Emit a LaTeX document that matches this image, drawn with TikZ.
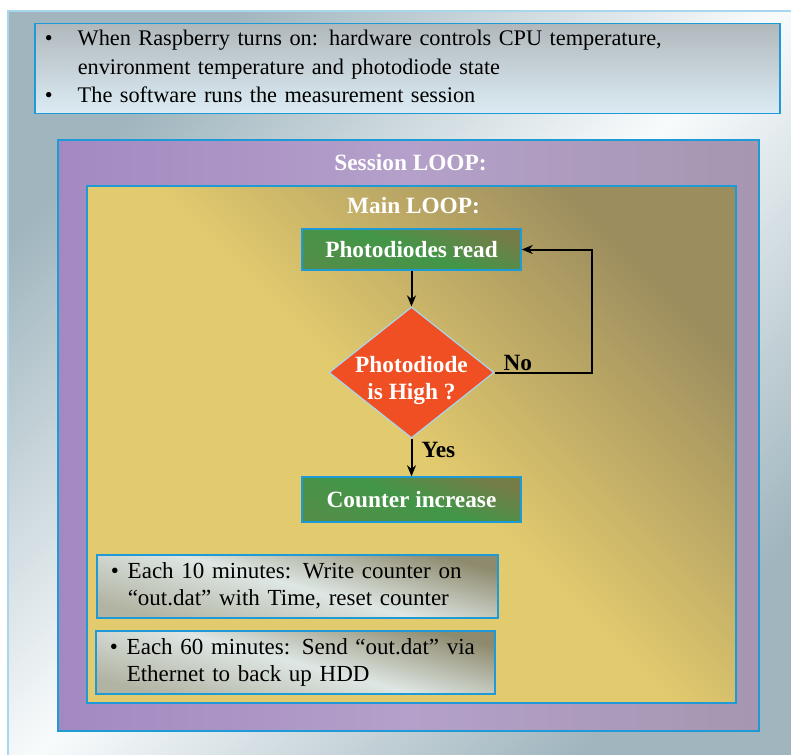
\documentclass[tikz,border=0pt]{standalone}
\usepackage{fontspec}
\setmainfont{Liberation Serif}
\usetikzlibrary{shapes.geometric, arrows.meta}

\definecolor{frameblue}{RGB}{30,154,214}
\definecolor{paleblue}{RGB}{168,214,236}
\definecolor{panelgray}{RGB}{160,181,190}
\definecolor{panelwhite}{RGB}{248,251,252}
\definecolor{introtop}{RGB}{176,184,188}
\definecolor{introbot}{RGB}{220,236,244}
\definecolor{sessiona}{RGB}{163,137,193}
\definecolor{sessionb}{RGB}{180,160,202}
\definecolor{sessionc}{RGB}{166,150,176}
\definecolor{maina}{RGB}{226,202,110}
\definecolor{mainb}{RGB}{156,141,94}
\definecolor{stepgreen}{RGB}{66,150,72}
\definecolor{stepolive}{RGB}{118,124,72}
\definecolor{decidered}{RGB}{240,78,35}
\definecolor{notedark}{RGB}{142,138,110}
\definecolor{notelight}{RGB}{222,231,228}

\tikzstyle{loopbox} = [rectangle, draw=frameblue, line width=2pt, inner sep=0pt, anchor=north west]
\tikzstyle{looptitle} = [text=white, font=\fontsize{23.3}{26}\selectfont\bfseries]
\tikzstyle{process} = [rectangle, minimum width=219pt, draw=frameblue, line width=1.5pt, text=white, font=\fontsize{23.3}{26}\selectfont\bfseries, top color=stepolive, bottom color=stepgreen!70!stepolive, middle color=stepgreen, shading angle=-20]
\tikzstyle{decision} = [diamond, aspect=1.26, inner sep=-5pt, minimum width=165pt, minimum height=131pt, fill=decidered, draw=paleblue, line width=1.2pt, text=white, font=\fontsize{23.3}{27}\selectfont\bfseries]
\tikzstyle{note} = [rectangle, draw=frameblue, line width=1.5pt, inner xsep=14pt, inner ysep=0pt, anchor=north west, top color=notedark, bottom color=notedark!55!notelight, middle color=notelight, shading angle=-15, font=\fontsize{23}{27}\selectfont]
\tikzstyle{answer} = [font=\fontsize{23.3}{26}\selectfont\bfseries, inner sep=1pt]
\tikzstyle{arrow} = [line width=2pt, -{Stealth[length=11pt, width=9pt]}]

\begin{document}
\begin{tikzpicture}[x=1pt, y=-1pt, node distance=123pt]
		\useasboundingbox (0,0) rectangle (791,754);
		% background panel
		\shade [top color=panelgray, bottom color=panelgray, middle color=panelwhite, shading angle=45] (8,11) rectangle (800,760);
		\draw [paleblue, line width=2pt] (8,760) -- (8,11) -- (800,11);
		
		\node (intro) [rectangle, draw=frameblue, line width=1.5pt, anchor=north west, minimum width=745pt, minimum height=90pt, inner xsep=10pt, inner ysep=0pt, text width=725pt, top color=introtop, bottom color=introbot, font=\fontsize{22.3}{28.5}\selectfont] at (34,23)
			{\begin{tabular}{@{}p{33pt}@{}l@{}}
				\textbullet & When Raspberry turns on: hardware controls CPU temperature,\\
				& environment temperature and photodiode state\\
				\textbullet & The software runs the measurement session
			\end{tabular}};
		
		\node (session) [loopbox, minimum width=701pt, minimum height=591pt, left color=sessiona, right color=sessionc, middle color=sessionb] at (57,139) {};
		\node (sessiontitle) [looptitle] at (410.5,163) {Session LOOP:};
		\node (main) [loopbox, minimum width=649pt, minimum height=517pt, bottom color=maina, top color=mainb, middle color=maina, shading angle=-45] at (86,185) {};
		\node (maintitle) [looptitle] at (413.5,206) {Main LOOP:};
		
		\node (read) [process, minimum height=41pt] at (411.5,249.5) {Photodiodes read};
		\node (decide) [decision, below of=read] {\raisebox{-8pt}[\height][\depth]{\begin{tabular}{@{}c@{}}Photodiode\\is High ?\end{tabular}}};
		\node (counter) [process, minimum height=45pt, below of=decide, node distance=127pt] {Counter increase};
		
		\draw [arrow] (read) -- (decide);
		\draw [arrow] (decide.east) -- node [answer, pos=0, anchor=south west, xshift=7pt] (no) {No} ++(97,0) |- (read.east);
		\draw [arrow] (decide) -- node [answer, right, pos=0.3, xshift=8pt] (yes) {Yes} (counter);
		
		\node (tenmin) [note, minimum width=401pt, minimum height=63pt, text width=373pt] at (96,554)
			{\begin{tabular}{@{}p{17pt}@{}l@{}}
				\textbullet & Each 10 minutes: Write counter on\\
				& “out.dat” with Time, reset counter
			\end{tabular}};
		\node (sixtymin) [note, minimum width=399pt, minimum height=63pt, text width=371pt] at (95,630)
			{\begin{tabular}{@{}p{17pt}@{}l@{}}
				\textbullet & Each 60 minutes: Send “out.dat” via\\
				& Ethernet to back up HDD
			\end{tabular}};
\end{tikzpicture}
\end{document}
